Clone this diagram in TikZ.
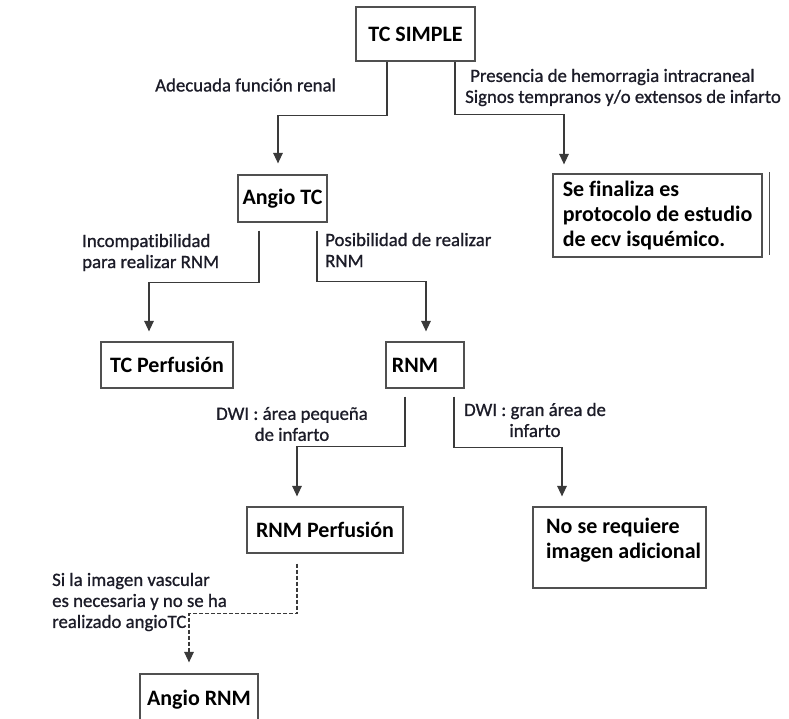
\documentclass[tikz,border=0pt]{standalone}
\usepackage{fontspec}
\setmainfont{Carlito}[Ligatures=NoCommon]
\newfontfamily\lblfont{Carlito}[Ligatures=NoCommon, RawFeature={embolden=0.9}]
\usetikzlibrary{arrows.meta,calc}
\definecolor{linegray}{HTML}{3A3A3A}
\definecolor{boxgray}{HTML}{505050}
\definecolor{lblcol}{HTML}{1C1C28}
\tikzset{
  box/.style={draw=boxgray, line width=1.2pt, font=\fontsize{22}{25}\selectfont\bfseries, inner sep=0pt, text=black},
  boxtext/.style={font=\fontsize{22}{25}\selectfont\bfseries, inner sep=0pt, text=black},
  lbl/.style={font=\lblfont\fontsize{18.8}{21}\selectfont, text=lblcol, inner sep=0pt, align=left},
  conn/.style={draw=linegray, line width=1.3pt, -{Triangle[width=9.5pt,length=10.5pt]}},
  dconn/.style={conn, dash pattern=on 4pt off 2pt},
  boxline/.style={draw=boxgray, line width=1.2pt}
}
\begin{document}
\begin{tikzpicture}[x=1pt,y=-1pt]
\fill[white] (0,0) rectangle (789,719);
\useasboundingbox (0,0) rectangle (789,719);

% boxes
\node[box, minimum width=119pt, minimum height=54pt] (tcs) at (415.5,34) {TC SIMPLE};
\node[box, minimum width=89pt, minimum height=47pt] (angiotc) at (282.5,198.5) {Angio TC};
\node[box, minimum width=209pt, minimum height=83pt, align=left] (sef) at (657.5,215.5) {Se finaliza es\\protocolo de estudio\\de ecv isquémico.};
\draw[boxline] ([xshift=7pt,yshift=1pt]sef.north east) -- ([xshift=7pt,yshift=3pt]sef.south east);
\node[box, minimum width=132pt, minimum height=46pt] (tcp) at (167,365) {TC Perfusión};
\node[box, minimum width=78pt, minimum height=46pt] (rnm) at (425,365) {RNM\kern20pt};
\node[box, minimum width=156pt, minimum height=46pt] (rnmp) at (325,530) {RNM Perfusión};
\node[box, minimum width=173pt, minimum height=81pt] (nsr) at (619.5,547.5) {};
\node[boxtext, align=left, anchor=west] (nsrt) at (546,540) {No se requiere\\imagen adicional};
\node[box, minimum width=118pt, minimum height=52pt] (arnm) at (199,700) {Angio RNM};

% connectors
\draw[conn] ([xshift=-28.5pt]tcs.south) -- ++(0,54) -| ([xshift=-4.5pt,yshift=11pt]angiotc.north);
\draw[conn] ([xshift=39.5pt]tcs.south) -- ++(0,53) -| ([xshift=-93.5pt,yshift=9pt]sef.north);
\draw[conn] ([xshift=-23.5pt,yshift=-8pt]angiotc.south) -- ++(0,52) -| ([xshift=-18pt,yshift=10pt]tcp.north);
\draw[conn] ([xshift=34.5pt,yshift=-8pt]angiotc.south) -- ++(0,51) -| ([xshift=1pt,yshift=10pt]rnm.north);
\draw[conn] ([xshift=-20pt,yshift=-8pt]rnm.south) -- ++(0,50) -| ([xshift=-28pt,yshift=10pt]rnmp.north);
\draw[conn] ([xshift=29pt,yshift=-8pt]rnm.south) -- ++(0,51) -| ([xshift=-57.5pt,yshift=10pt]nsr.north);
\draw[dconn] ([xshift=-28pt,yshift=-10pt]rnmp.south) -- ++(0,50) -| ([xshift=-10pt,yshift=11pt]arnm.north);

% labels
\node[lbl, anchor=west] (l1) at (155,85) {Adecuada función renal};
\node[lbl, anchor=west] (l2a) at (470,77) {Presencia de hemorragia intracraneal};
\node[lbl, anchor=west] (l2b) at (465,98) {Signos tempranos y/o extensos de infarto};
\node[lbl, anchor=west] (l3) at (82,252.5) {Incompatibilidad\\para realizar RNM};
\node[lbl, anchor=west] (l4) at (325,250) {Posibilidad de realizar\\RNM};
\node[lbl, align=center] (l5) at (292,424) {DWI : área pequeña\\de infarto};
\node[lbl, align=center] (l6) at (535,420) {DWI : gran área de\\infarto};
\node[lbl, anchor=west] (l7) at (52,602) {Si la imagen vascular\\es necesaria y no se ha\\realizado angioTC};
\end{tikzpicture}
\end{document}
